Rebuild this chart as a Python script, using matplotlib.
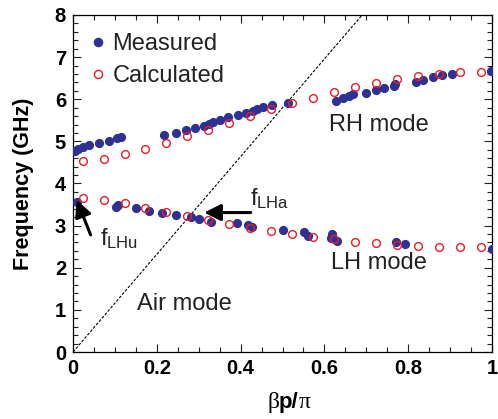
import matplotlib
matplotlib.use("Agg")
import matplotlib.pyplot as plt
from matplotlib.ticker import MultipleLocator
from matplotlib.offsetbox import TextArea, HPacker, AnchoredOffsetbox

# ---------------- data ----------------
meas_rh_x = [0.005, 0.013, 0.023, 0.039, 0.062, 0.086, 0.105, 0.115, 0.216, 0.247,
             0.269, 0.291, 0.313, 0.325, 0.334, 0.352, 0.370, 0.393, 0.413, 0.429,
             0.440, 0.453, 0.475, 0.512, 0.627, 0.645, 0.658, 0.668, 0.700, 0.724,
             0.743, 0.765, 0.768, 0.818, 0.836, 0.858, 0.880, 0.905, 0.998]
meas_rh_y = [4.78, 4.83, 4.87, 4.91, 4.97, 5.02, 5.07, 5.11, 5.16, 5.21,
             5.26, 5.31, 5.36, 5.41, 5.47, 5.51, 5.57, 5.62, 5.67, 5.73,
             5.78, 5.81, 5.87, 5.92, 5.97, 6.02, 6.08, 6.13, 6.16, 6.22,
             6.26, 6.32, 6.36, 6.42, 6.46, 6.52, 6.57, 6.61, 6.68]

meas_lh_x = [0.010, 0.103, 0.108, 0.150, 0.182, 0.213, 0.247, 0.282, 0.300, 0.329,
             0.392, 0.417, 0.427, 0.502, 0.552, 0.560, 0.619, 0.615, 0.629, 0.771,
             0.792, 0.999]
meas_lh_y = [3.57, 3.45, 3.50, 3.41, 3.35, 3.31, 3.26, 3.20, 3.15, 3.09,
             3.06, 3.01, 2.96, 2.90, 2.86, 2.76, 2.80, 2.70, 2.64, 2.61,
             2.56, 2.45]

calc_x = [0.023, 0.073, 0.123, 0.173, 0.223, 0.273, 0.323, 0.373, 0.423, 0.473,
          0.523, 0.573, 0.623, 0.673, 0.723, 0.773, 0.823, 0.873, 0.923, 0.973]
calc_rh_y = [4.54, 4.59, 4.69, 4.81, 4.96, 5.12, 5.28, 5.44, 5.60, 5.76,
             5.90, 6.04, 6.17, 6.29, 6.39, 6.48, 6.55, 6.60, 6.64, 6.65]
calc_lh_y = [3.65, 3.60, 3.53, 3.43, 3.33, 3.23, 3.13, 3.03, 2.95, 2.88,
             2.80, 2.73, 2.68, 2.62, 2.58, 2.55, 2.52, 2.50, 2.49, 2.49]

air_x = [0.0, 0.69]
air_y = [0.0, 8.0]

# ---------------- style ----------------
plt.rcParams['font.family'] = ['Liberation Sans', 'DejaVu Sans']
plt.rcParams['mathtext.fontset'] = 'custom'
plt.rcParams['mathtext.rm'] = 'Liberation Sans'
plt.rcParams['mathtext.it'] = 'Liberation Sans'

BLUE = '#2e3192'
RED = '#ed1c24'

fig = plt.figure(figsize=(4.98, 4.19), dpi=100)
ax = fig.add_axes([73/498, 1-352/419, (492-73)/498, (352-15)/419])

ax.plot(air_x, air_y, color='black', lw=0.8, ls=(0, (2.5, 1.5)), zorder=1)

ms = 5.6
ax.plot(meas_rh_x, meas_rh_y, 'o', color=BLUE, ms=ms, mec=BLUE, label='Measured', zorder=3)
ax.plot(meas_lh_x, meas_lh_y, 'o', color=BLUE, ms=ms, mec=BLUE, zorder=3)
ax.plot(calc_x, calc_rh_y, 'o', mfc='none', mec=RED, mew=1.0, ms=ms, label='Calculated', zorder=4)
ax.plot(calc_x, calc_lh_y, 'o', mfc='none', mec=RED, mew=1.0, ms=ms, zorder=4)

ax.set_xlim(0, 1)
ax.set_ylim(0, 8)
ax.xaxis.set_major_locator(MultipleLocator(0.2))
ax.xaxis.set_minor_locator(MultipleLocator(0.05))
ax.yaxis.set_major_locator(MultipleLocator(1))
ax.yaxis.set_minor_locator(MultipleLocator(0.2))
ax.set_xticks([0, 0.2, 0.4, 0.6, 0.8, 1.0])
ax.set_xticklabels(['0', '0.2', '0.4', '0.6', '0.8', '1'])
ax.tick_params(which='both', direction='in', top=True, right=True, width=0.8, color='#222222')
ax.tick_params(which='major', length=6)
ax.tick_params(which='minor', length=3.5)
ax.tick_params(labelsize=14.5, pad=5)
for lab in ax.get_xticklabels() + ax.get_yticklabels():
    lab.set_fontweight('bold')
for sp in ax.spines.values():
    sp.set_linewidth(0.9)

ax.set_ylabel('Frequency (GHz)', fontsize=15.5, fontweight='bold', labelpad=15)

# x label: serif beta, bold sans p/, serif pi
parts = [TextArea('β', textprops=dict(family='Liberation Serif', size=17)),
         TextArea('p/', textprops=dict(family='Liberation Sans', weight='bold', size=16)),
         TextArea('π', textprops=dict(family='Liberation Serif', size=17))]
box = HPacker(children=parts, align='baseline', pad=0, sep=0)
anch = AnchoredOffsetbox(loc='upper center', child=box, frameon=False, pad=0,
                         bbox_to_anchor=(0.515, -0.12), bbox_transform=ax.transAxes,
                         borderpad=0)
ax.add_artist(anch)

leg = ax.legend(loc='upper left', bbox_to_anchor=(0.012, 0.975), frameon=False,
                fontsize=17, handlelength=0.9, handletextpad=0.15, labelspacing=0.45,
                borderaxespad=0, markerscale=1.05)
for t in leg.get_texts():
    t.set_color('#222222')

txt_kw = dict(fontsize=17, color='#222222')
ax.text(0.731, 5.40, 'RH mode', ha='center', va='center', **txt_kw)
ax.text(0.731, 2.11, 'LH mode', ha='center', va='center', **txt_kw)
ax.text(0.267, 1.14, 'Air mode', ha='center', va='center', **txt_kw)

ax.text(0.422, 3.49, r'f$_\mathregular{LHa}$', ha='left', va='baseline', **txt_kw)
ax.text(0.064, 2.54, r'f$_\mathregular{LHu}$', ha='left', va='baseline', **txt_kw)

arrow_kw = dict(arrowstyle='-|>,head_length=1.0,head_width=0.5', lw=2.2, color='black',
                shrinkA=0, shrinkB=0)
ax.annotate('', xy=(0.313, 3.31), xytext=(0.424, 3.31), arrowprops=arrow_kw)
ax.annotate('', xy=(0.009, 3.61), xytext=(0.042, 2.78), arrowprops=arrow_kw)

fig.savefig('out.png', dpi=100)
